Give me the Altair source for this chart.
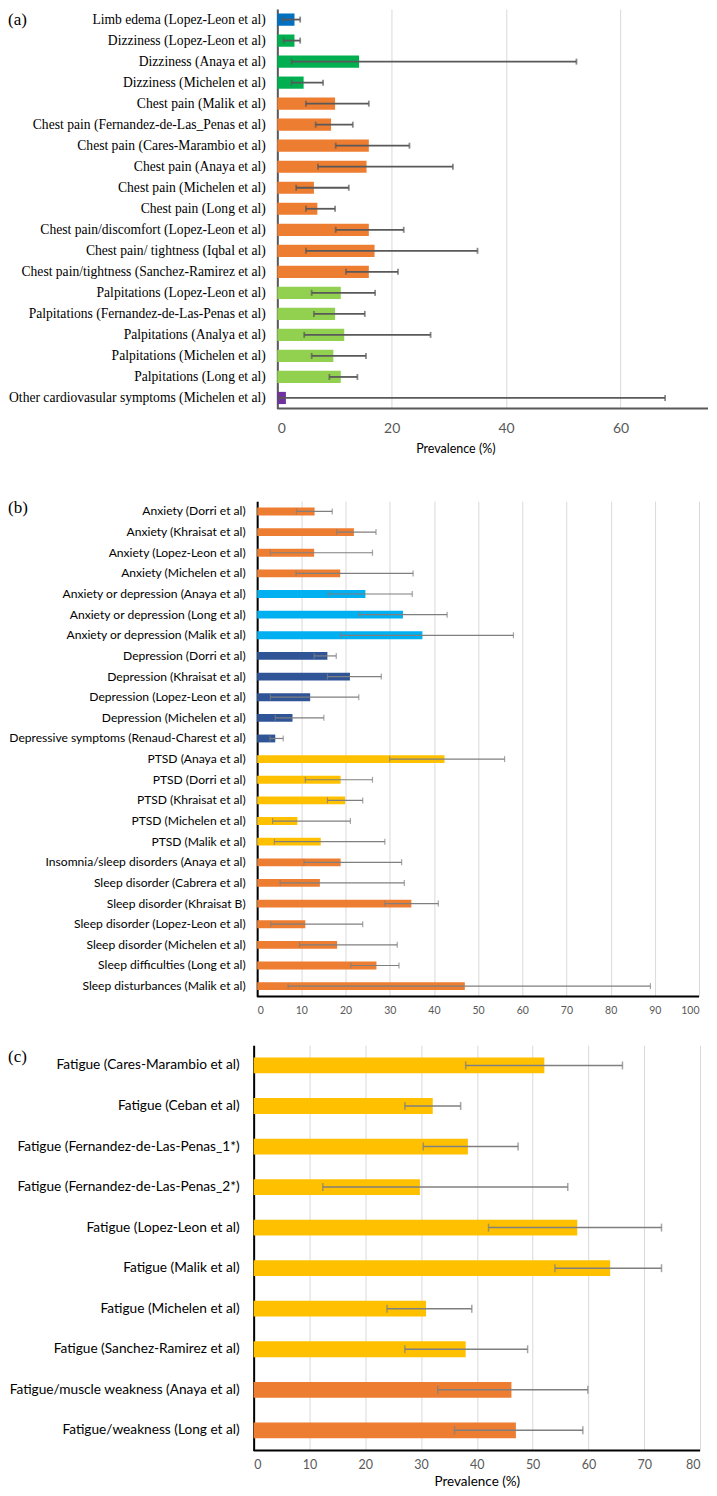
import altair as alt
import pandas as pd

# ---------------- Panel (a) ----------------
a_labels = [
    "Limb edema (Lopez-Leon et al)", "Dizziness (Lopez-Leon et al)", "Dizziness (Anaya et al)",
    "Dizziness (Michelen et al)", "Chest pain (Malik et al)", "Chest pain (Fernandez-de-Las_Penas et al)",
    "Chest pain (Cares-Marambio et al)", "Chest pain (Anaya et al)", "Chest pain (Michelen et al)",
    "Chest pain (Long et al)", "Chest pain/discomfort (Lopez-Leon et al)", "Chest pain/ tightness (Iqbal et al)",
    "Chest pain/tightness (Sanchez-Ramirez et al)", "Palpitations (Lopez-Leon et al)",
    "Palpitations (Fernandez-de-Las-Penas et al)", "Palpitations (Analya et al)",
    "Palpitations (Michelen et al)", "Palpitations (Long et al)",
    "Other cardiovasular symptoms (Michelen et al)",
]
a_groups = ["Limb edema"] + ["Dizziness"] * 3 + ["Chest pain"] * 9 + ["Palpitations"] * 5 + ["Other"]
a_values = [3.0, 3.0, 14.3, 4.6, 10.1, 9.4, 16.0, 15.6, 6.4, 7.0, 16.0, 17.0, 16.0, 11.1, 10.1, 11.7, 9.8, 11.1, 1.5]
a_lower = [0.9, 1.1, 2.5, 2.5, 5.0, 6.7, 10.2, 7.1, 3.3, 5.0, 10.2, 5.0, 12.0, 6.0, 6.4, 4.7, 6.0, 9.1, 0.3]
a_upper = [4.0, 4.0, 52.3, 8.0, 16.0, 13.2, 23.1, 30.7, 12.5, 10.1, 22.1, 35.0, 21.1, 17.1, 15.3, 26.8, 15.5, 14.0, 67.8]
a_color_domain = ["Limb edema", "Dizziness", "Chest pain", "Palpitations", "Other"]
a_color_range = ["#0070c0", "#00b050", "#ed7d31", "#92d050", "#7030a0"]
a_ticks = [0, 20, 40, 60]

# ---------------- Panel (b) ----------------
b_labels = [
    "Anxiety (Dorri et al)", "Anxiety (Khraisat et al)", "Anxiety (Lopez-Leon et al)", "Anxiety (Michelen et al)",
    "Anxiety or depression (Anaya et al)", "Anxiety or depression (Long et al)", "Anxiety or depression (Malik et al)",
    "Depression (Dorri et al)", "Depression (Khraisat et al)", "Depression (Lopez-Leon et al)",
    "Depression (Michelen et al)", "Depressive symptoms (Renaud-Charest et al)",
    "PTSD (Anaya et al)", "PTSD (Dorri et al)", "PTSD (Khraisat et al)", "PTSD (Michelen et al)", "PTSD (Malik et al)",
    "Insomnia/sleep disorders (Anaya et al)", "Sleep disorder (Cabrera et al)", "Sleep disorder (Khraisat B)",
    "Sleep disorder (Lopez-Leon et al)", "Sleep disorder (Michelen et al)", "Sleep difficulties (Long et al)",
    "Sleep disturbances (Malik et al)",
]
b_groups = (["Anxiety"] * 4 + ["Anxiety or depression"] * 3 + ["Depression"] * 5 + ["PTSD"] * 5 + ["Sleep"] * 7)
b_values = [13.0, 21.9, 12.9, 18.8, 24.5, 33.0, 37.4, 15.9, 21.0, 12.0, 8.0, 4.1,
            42.4, 18.9, 19.9, 9.1, 14.4, 18.9, 14.2, 34.9, 10.9, 18.1, 27.0, 47.0]
b_lower = [8.9, 18.0, 3.0, 8.8, 16.1, 23.0, 18.9, 12.9, 15.9, 3.0, 4.1, 2.9,
           30.0, 10.9, 15.9, 3.5, 3.9, 10.6, 5.2, 28.9, 3.1, 9.6, 21.2, 7.0]
b_upper = [17.0, 26.9, 26.1, 35.3, 35.1, 43.0, 58.0, 17.9, 28.1, 23.0, 15.1, 5.9,
           56.0, 26.1, 23.9, 21.1, 28.9, 32.7, 33.3, 41.0, 23.9, 31.7, 32.1, 89.0]
b_color_domain = ["Anxiety", "Anxiety or depression", "Depression", "PTSD", "Sleep"]
b_color_range = ["#ed7d31", "#00b0f0", "#2f5597", "#ffc000", "#ed7d31"]
b_ticks = [0, 10, 20, 30, 40, 50, 60, 70, 80, 90, 100]

# ---------------- Panel (c) ----------------
c_labels = [
    "Fatigue (Cares-Marambio et al)", "Fatigue (Ceban et al)", "Fatigue (Fernandez-de-Las-Penas_1*)",
    "Fatigue (Fernandez-de-Las-Penas_2*)", "Fatigue (Lopez-Leon et al)", "Fatigue (Malik et al)",
    "Fatigue (Michelen et al)", "Fatigue (Sanchez-Ramirez et al)", "Fatigue/muscle weakness (Anaya et al)",
    "Fatigue/weakness (Long et al)",
]
c_groups = ["Fatigue"] * 8 + ["Fatigue/weakness"] * 2
c_values = [52.1, 32.1, 38.4, 29.8, 58.0, 63.9, 30.9, 38.0, 46.2, 47.0]
c_lower = [38.0, 27.1, 30.4, 12.4, 42.1, 54.0, 23.9, 27.1, 33.0, 36.0]
c_upper = [66.1, 37.1, 47.4, 56.3, 73.1, 73.1, 39.1, 49.1, 59.9, 59.0]
c_color_domain = ["Fatigue", "Fatigue/weakness"]
c_color_range = ["#ffc000", "#ed7d31"]
c_ticks = [0, 10, 20, 30, 40, 50, 60, 70, 80]

SANS = "Lato"
SERIF = "Liberation Serif"


def make_panel(labels, groups, values, lower, upper, tag, ticks, color_domain, color_range, st):
    df = pd.DataFrame({"label": labels, "group": groups, "value": values, "lo": lower, "hi": upper})
    tag_df = pd.DataFrame({"tag": [tag]})
    W, H, x0 = st["width"], st["height"], st["x0"]

    xscale = alt.Scale(domain=st["domain"], range=[x0, W], nice=False, zero=True)
    xaxis_kw = dict(
        values=ticks, grid=True, gridColor="#d9d9d9", gridWidth=1, ticks=False, tickSize=0, domain=False,
        labelFont=SANS, labelFontSize=st["tick_size"], labelColor="#595959", labelPadding=st["tick_pad"],
    )
    if st.get("title"):
        xaxis_kw.update(titleFont=SANS, titleFontSize=st["title_size"], titleFontWeight="normal",
                        titleColor="#000000", titlePadding=st["title_pad"])
        if "title_x" in st:
            xaxis_kw.update(titleX=st["title_x"], titleAlign="center")
    xaxis = alt.Axis(**xaxis_kw)
    xtitle = st.get("title")

    yscale = alt.Scale(paddingInner=st["pi"], paddingOuter=st["pi"] / 2)
    yaxis = alt.Axis(
        grid=False, ticks=False, tickSize=0, domainColor=st["dom_color"], domainWidth=st["dom_width"],
        labelFont=st["label_font"], labelFontSize=st["label_size"], labelColor="#000000",
        labelPadding=st["label_pad"], labelLimit=500, offset=-x0,
    )

    def X(field):
        if xtitle:
            return alt.X(field, scale=xscale, axis=xaxis, title=xtitle)
        return alt.X(field, scale=xscale, axis=xaxis, title=None)

    Y = alt.Y("label:N", sort=labels, scale=yscale, axis=yaxis, title=None)

    base = alt.Chart(df)
    bars = base.mark_bar().encode(
        x=X("value:Q"), y=Y,
        color=alt.Color("group:N", scale=alt.Scale(domain=color_domain, range=color_range), legend=None),
    )
    whisk = base.mark_rule(color=st["err_color"], strokeWidth=st["err_width"]).encode(
        x=X("lo:Q"), x2="hi:Q", y=Y)
    cap_lo = base.mark_tick(color=st["err_color"], thickness=st["err_width"], size=st["cap"]).encode(
        x=X("lo:Q"), y=Y)
    cap_hi = base.mark_tick(color=st["err_color"], thickness=st["err_width"], size=st["cap"]).encode(
        x=X("hi:Q"), y=Y)
    # bottom axis line, starting at x = 0 of the data scale
    xline = alt.Chart(tag_df).mark_rule(color=st["dom_color"], strokeWidth=st["dom_width"]).encode(
        x=X("zero:Q") if False else (alt.X(datum=0, scale=xscale, axis=xaxis, title=xtitle) if xtitle
                                     else alt.X(datum=0, scale=xscale, axis=xaxis, title=None)),
        x2=alt.value(W), y=alt.value(H))
    tag_text = alt.Chart(tag_df).mark_text(
        align="left", baseline="top", font=SERIF, fontSize=17, color="#000000"
    ).encode(text="tag:N", x=alt.value(st["tag_x"]), y=alt.value(st["tag_y"]))
    layers = [bars, whisk, cap_lo, cap_hi, xline, tag_text]
    if "spacer_y" in st:
        spacer = alt.Chart(tag_df).mark_rule(color="#ffffff", strokeWidth=1).encode(
            x=alt.value(0), x2=alt.value(1), y=alt.value(st["spacer_y"]))
        layers.append(spacer)
    return alt.layer(*layers).properties(width=W, height=H).resolve_scale(color="independent")


pa = make_panel(a_labels, a_groups, a_values, a_lower, a_upper, "(a)", a_ticks, a_color_domain, a_color_range, dict(
    domain=[0, 75.3], width=455, x0=23.7, height=400, pi=0.42,
    dom_color="#595959", dom_width=2,
    tick_size=14, tick_pad=13, title="Prevalence (%)", title_size=12.5, title_pad=7, title_x=202,
    label_font=SERIF, label_size=13.6, label_pad=12,
    err_color="#595959", err_width=1.8, cap=6, tag_x=-246, tag_y=2.5, spacer_y=460.9,
))

pb = make_panel(b_labels, b_groups, b_values, b_lower, b_upper, "(b)", b_ticks, b_color_domain, b_color_range, dict(
    domain=[0, 100], width=446, x0=3.5, height=496, pi=0.62,
    dom_color="#000000", dom_width=2,
    tick_size=10.5, tick_pad=9,
    label_font=SANS, label_size=12.1, label_pad=12,
    err_color="#7f7f7f", err_width=1.2, cap=6, tag_x=-246, tag_y=-1,
))

pc = make_panel(c_labels, c_groups, c_values, c_lower, c_upper, "(c)", c_ticks, c_color_domain, c_color_range, dict(
    domain=[0, 80], width=447, x0=0, height=406, pi=0.61,
    dom_color="#000000", dom_width=2,
    tick_size=12.5, tick_pad=8, title="Prevalence (%)", title_size=13.5, title_pad=3,
    label_font=SANS, label_size=13.7, label_pad=14.5,
    err_color="#7f7f7f", err_width=1.5, cap=8, tag_x=-246, tag_y=4,
))

chart = alt.concat(pa, pb, pc, columns=1, spacing=28.8).resolve_scale(
    x="independent", y="independent", color="independent"
).properties(
    padding={"left": 0, "top": 0, "right": 0, "bottom": 0}
).configure_view(strokeWidth=0)

chart.save("out.html", embed_options={"renderer": "svg", "actions": False})
